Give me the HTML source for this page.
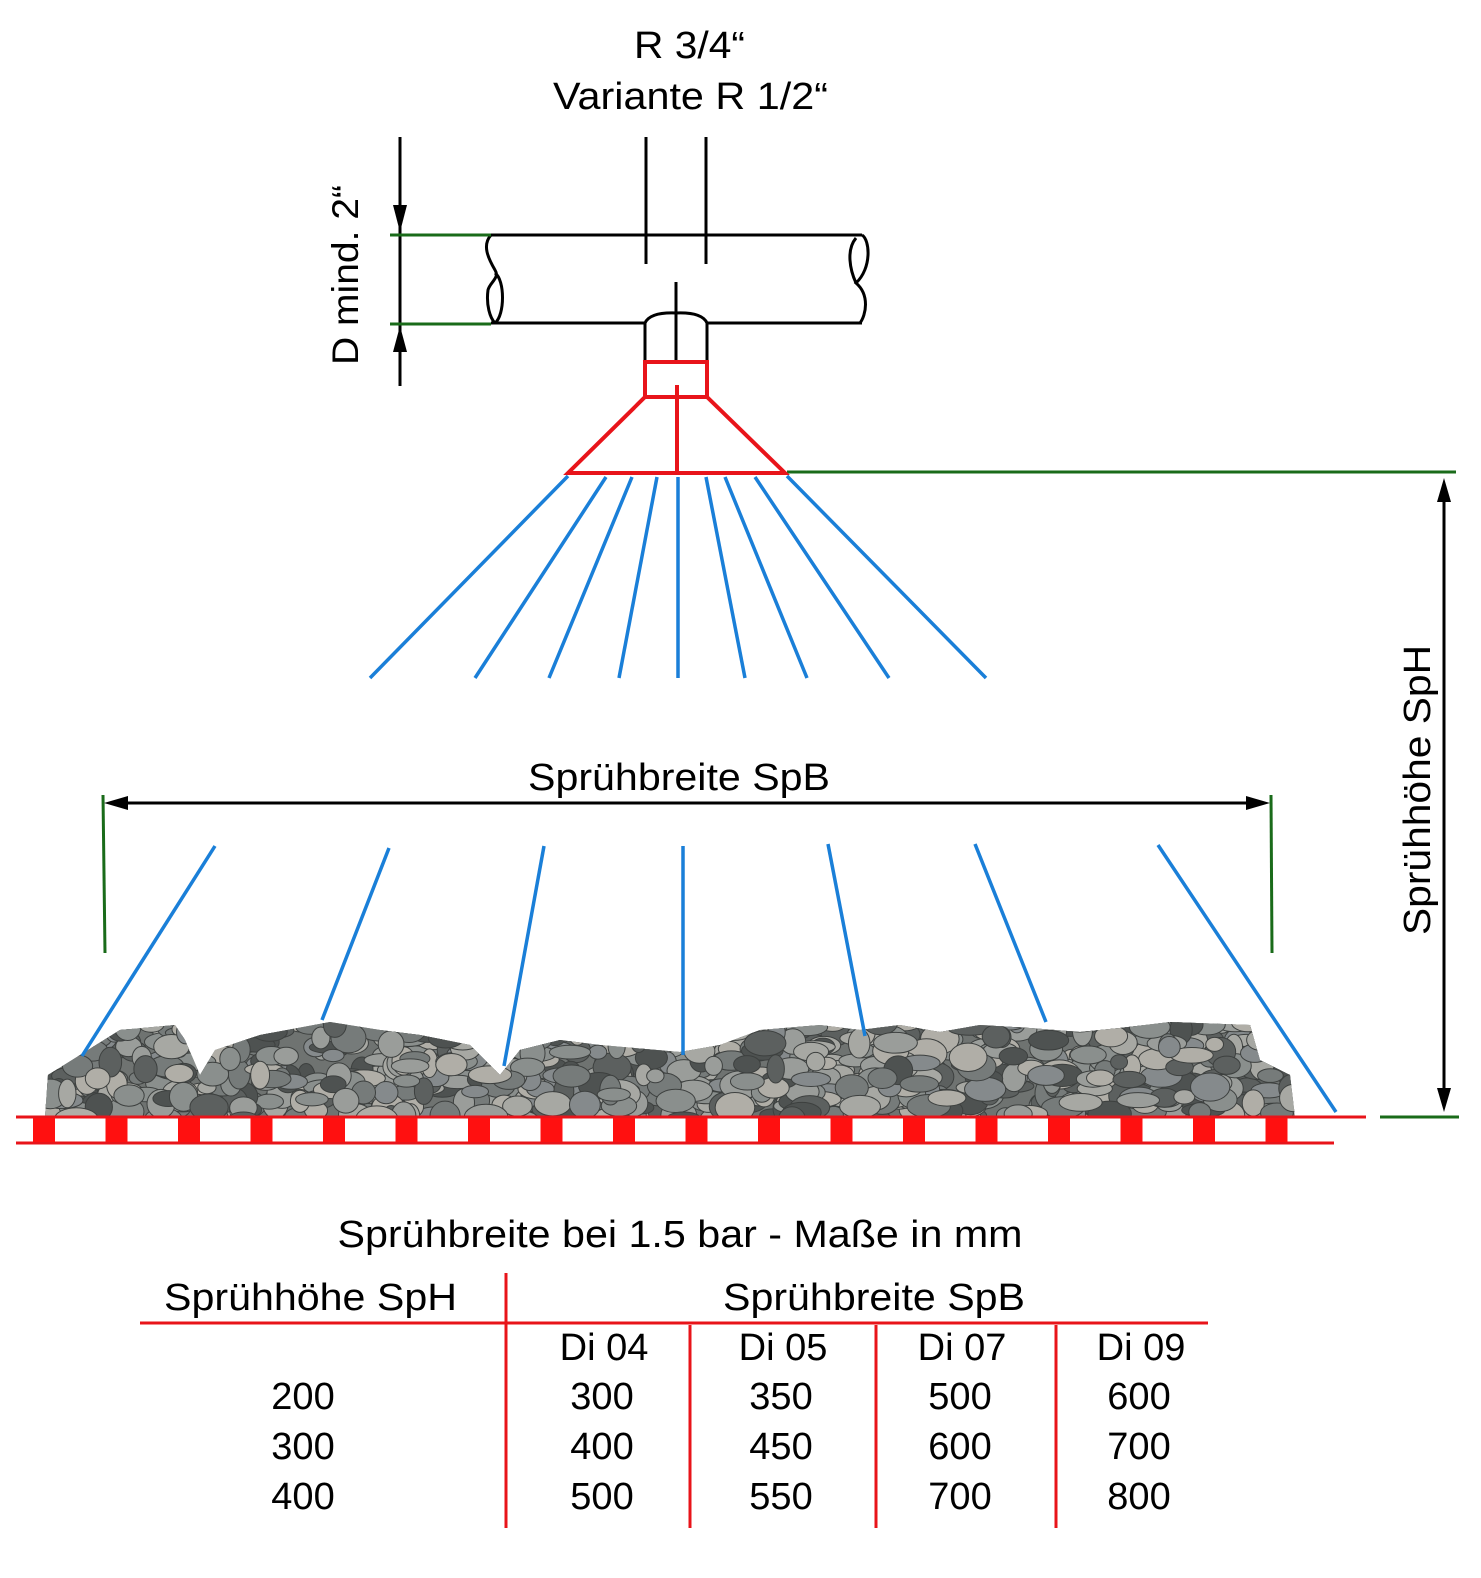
<!DOCTYPE html>
<html><head><meta charset="utf-8"><style>
html,body{margin:0;padding:0;background:#fff;}
svg{display:block;}
text{font-family:"Liberation Sans",sans-serif;fill:#000;}
</style></head><body>
<svg id="s" width="1481" height="1578" viewBox="0 0 1481 1578" xmlns="http://www.w3.org/2000/svg">
<defs>
<clipPath id="gc"><path d="M45,1117 L48,1075 L80,1055 L120,1030 L175,1025 L185,1040 L200,1075 L215,1050 L260,1035 L330,1022 L380,1030 L420,1035 L470,1045 L500,1075 L520,1050 L560,1040 L600,1045 L680,1052 L720,1045 L760,1030 L820,1025 L860,1030 L900,1025 L940,1032 L980,1025 L1030,1028 L1080,1032 L1120,1028 L1170,1022 L1250,1025 L1260,1060 L1290,1075 L1295,1117 Z"/></clipPath>
</defs>
<g clip-path="url(#gc)" id="gravel"><rect x="40" y="1015" width="1260" height="105" fill="#6f7371"/></g>

<text x="634" y="58" font-size="38" textLength="111" lengthAdjust="spacingAndGlyphs">R 3/4“</text>
<text x="553" y="109" font-size="38" textLength="275" lengthAdjust="spacingAndGlyphs">Variante R 1/2“</text>

<g stroke="#000" stroke-width="3" fill="none">
<line x1="646" y1="137" x2="646" y2="264"/>
<line x1="706" y1="137" x2="706" y2="264"/>
<path d="M491,235 L862,235"/>
<path d="M491,323 L645,323 Q650,312 676,313 Q702,312 707,323 L862,323"/>
<path d="M491,235 C482,245 488,258 495,270 C500,278 490,282 488,290 C486,305 490,318 495,323"/>
<path d="M495,273 C505,280 505,315 495,323"/>
<path d="M862,235 C870,240 872,268 856,283 C870,295 866,315 860,323"/>
<path d="M856,238 C846,250 850,270 856,283"/>
<line x1="676" y1="282" x2="676" y2="362"/>
<line x1="645" y1="323" x2="645" y2="362"/>
<line x1="707" y1="323" x2="707" y2="362"/>
<line x1="400" y1="137" x2="400" y2="386"/>
</g>
<polygon points="393,205 407,205 400,232" fill="#000"/>
<polygon points="393,352 407,352 400,326" fill="#000"/>
<g stroke="#1a6b1a" stroke-width="3">
<line x1="390" y1="235" x2="491" y2="235"/>
<line x1="390" y1="324" x2="491" y2="324"/>
<line x1="787" y1="472" x2="1456" y2="472"/>
<line x1="1380" y1="1117" x2="1459" y2="1117"/>
<line x1="103" y1="795" x2="105" y2="953"/>
<line x1="1271" y1="795" x2="1272" y2="953"/>
</g>
<text transform="translate(358,275) rotate(-90)" font-size="37" text-anchor="middle" textLength="180" lengthAdjust="spacingAndGlyphs">D mind. 2“</text>

<g stroke="#e8141a" stroke-width="4" fill="none">
<rect x="645" y="362" width="62" height="35"/>
<polygon points="645,397 707,397 785,473 568,473"/>
<line x1="677" y1="385" x2="677" y2="473"/>
</g>

<g stroke="#1a7fd8" stroke-width="3.5">
<line x1="568" y1="476" x2="370" y2="678"/>
<line x1="606" y1="477" x2="475" y2="678"/>
<line x1="632" y1="477" x2="549" y2="678"/>
<line x1="657" y1="477" x2="619" y2="678"/>
<line x1="678" y1="477" x2="678" y2="678"/>
<line x1="706" y1="477" x2="745" y2="678"/>
<line x1="725" y1="477" x2="807" y2="678"/>
<line x1="755" y1="477" x2="889" y2="678"/>
<line x1="787" y1="476" x2="986" y2="678"/>
<line x1="215" y1="846" x2="82" y2="1056"/>
<line x1="389" y1="848" x2="322" y2="1020"/>
<line x1="544" y1="846" x2="504" y2="1066"/>
<line x1="683" y1="846" x2="683" y2="1055"/>
<line x1="828" y1="844" x2="865" y2="1036"/>
<line x1="975" y1="844" x2="1046" y2="1022"/>
<line x1="1158" y1="845" x2="1336" y2="1112"/>
</g>

<text x="528" y="790" font-size="38" textLength="302" lengthAdjust="spacingAndGlyphs">Sprühbreite SpB</text>
<line x1="110" y1="803" x2="1265" y2="803" stroke="#000" stroke-width="3"/>
<polygon points="104,803 128,796 128,810" fill="#000"/>
<polygon points="1270,803 1246,796 1246,810" fill="#000"/>
<line x1="1444" y1="485" x2="1444" y2="1105" stroke="#000" stroke-width="3"/>
<polygon points="1444,478 1437,502 1451,502" fill="#000"/>
<polygon points="1444,1112 1437,1088 1451,1088" fill="#000"/>
<text transform="translate(1430,790) rotate(-90)" font-size="38" text-anchor="middle" textLength="290" lengthAdjust="spacingAndGlyphs">Sprühhöhe SpH</text>

<rect x="16" y="1117" width="1320" height="26" fill="#fff"/>
<line x1="16" y1="1117" x2="1366" y2="1117" stroke="#e8141a" stroke-width="3"/>
<line x1="16" y1="1143" x2="1334" y2="1143" stroke="#e8141a" stroke-width="3"/>
<g id="red" fill="#ff1010"></g>

<text x="680" y="1247" font-size="38" text-anchor="middle" textLength="685" lengthAdjust="spacingAndGlyphs">Sprühbreite bei 1.5 bar - Maße in mm</text>
<text x="164" y="1310" font-size="38" textLength="293" lengthAdjust="spacingAndGlyphs">Sprühhöhe SpH</text>
<text x="723" y="1310" font-size="38" textLength="302" lengthAdjust="spacingAndGlyphs">Sprühbreite SpB</text>
<g stroke="#e8141a" stroke-width="3">
<line x1="140" y1="1323" x2="1208" y2="1323"/>
<line x1="506" y1="1273" x2="506" y2="1528"/>
<line x1="690" y1="1325" x2="690" y2="1528"/>
<line x1="876" y1="1325" x2="876" y2="1528"/>
<line x1="1056" y1="1325" x2="1056" y2="1528"/>
</g>
<g font-size="38" text-anchor="middle">
<text x="604" y="1360">Di 04</text><text x="783" y="1360">Di 05</text><text x="962" y="1360">Di 07</text><text x="1141" y="1360">Di 09</text>
<text x="303" y="1409">200</text><text x="602" y="1409">300</text><text x="781" y="1409">350</text><text x="960" y="1409">500</text><text x="1139" y="1409">600</text>
<text x="303" y="1459">300</text><text x="602" y="1459">400</text><text x="781" y="1459">450</text><text x="960" y="1459">600</text><text x="1139" y="1459">700</text>
<text x="303" y="1509">400</text><text x="602" y="1509">500</text><text x="781" y="1509">550</text><text x="960" y="1509">700</text><text x="1139" y="1509">800</text>
</g>
</svg>
<script>
(function(){
var NS="http://www.w3.org/2000/svg";
var red=document.getElementById("red");
for(var i=0;i<18;i++){var r=document.createElementNS(NS,"rect");r.setAttribute("x",33+i*72.5);r.setAttribute("y",1118);r.setAttribute("width",22);r.setAttribute("height",24);red.appendChild(r);}
var g=document.getElementById("gravel");var s=7;function rnd(){s=(s*16807)%2147483647;return s/2147483647;}
var cols=["#8a8f8d","#5c605f","#9a9d9a","#767b7a","#a7a8a3","#4e5251","#858a8c","#b0aea7"];
for(var k=0;k<900;k++){var e=document.createElementNS(NS,"ellipse");
e.setAttribute("cx",45+rnd()*1250);e.setAttribute("cy",1020+rnd()*100);
e.setAttribute("rx",8+rnd()*14);e.setAttribute("ry",6+rnd()*9);
e.setAttribute("fill",cols[Math.floor(rnd()*cols.length)]);e.setAttribute("stroke","#3d403f");e.setAttribute("stroke-width","1");
g.appendChild(e);}
})();
</script>
</body></html>
